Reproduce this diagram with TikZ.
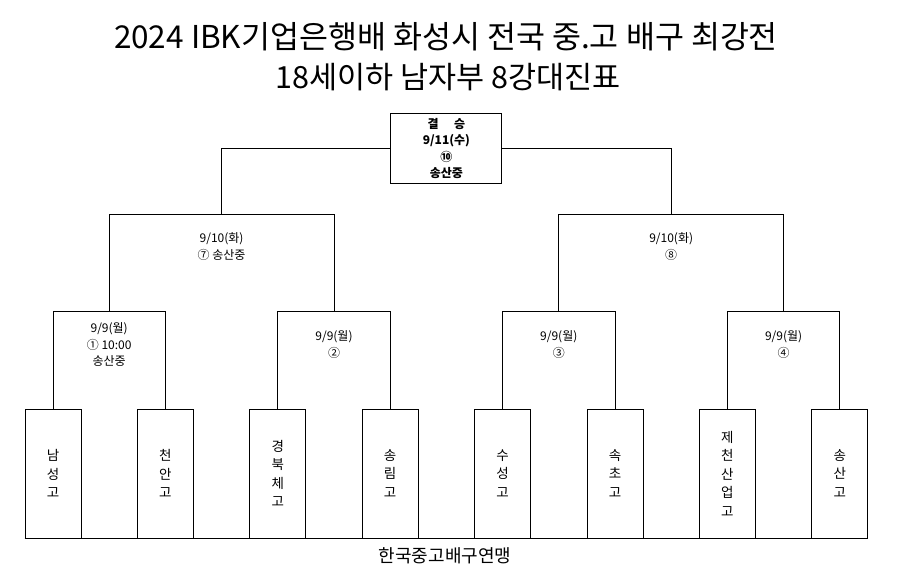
\documentclass[tikz,border=0pt]{standalone}
\usepackage{fontspec}
\setmainfont{Noto Sans CJK KR}
\usetikzlibrary{calc,positioning}
\newdimen\wdim
\newdimen\hdim
\wdim=56pt
\hdim=129pt
\tikzstyle{team}=[
  draw=black,
  line width=1pt,
  minimum width=\wdim,
  minimum height=\hdim,
  inner sep=0pt,
  align=center,
  font={\fontsize{13.5}{18.5}\selectfont},
]
\tikzstyle{bracket}=[
  draw=black,
  line width=1pt,
]
\tikzstyle{matchlabel}=[
  align=center,
  font={\fontsize{12}{16.5}\selectfont},
]
\tikzstyle{finalbox}=[
  draw=black,
  line width=1pt,
  fill=white,
  minimum width=111pt,
  minimum height=70pt,
  align=center,
  font={\bfseries\fontsize{12}{16.5}\selectfont},
]
\tikzset{
  x=1pt,
  y=-1pt,
}
\begin{document}
\begin{tikzpicture}
      \useasboundingbox (0,0) rectangle (897,581);
      \node [font={\fontsize{31.5}{31.5}\selectfont}] (title) at (446,37)
      {2024 IBK기업은행배 화성시 전국 중.고 배구 최강전};
      \node [font={\fontsize{30.5}{30.5}\selectfont}] (subtitle) at (448,77)
      {18세이하 남자부 8강대진표};
      \foreach \name [count=\i] in {남\\성\\고,천\\안\\고,경\\북\\체\\고,송\\림\\고,
        수\\성\\고,속\\초\\고,제\\천\\산\\업\\고,송\\산\\고}
      \node [team] (t\i) at ({53+112.4*(\i-1)},473.5) {\name};
      \foreach \i/\a/\b in {1/1/2,2/3/4,3/5/6,4/7/8}
      \coordinate (q\i) at ($(t\a.north)!.5!(t\b.north)+(0,-97)$);
      \foreach \i/\a/\b in {1/1/2,2/3/4}
      \coordinate (s\i) at ($(q\a)!.5!(q\b)+(0,-97)$);
      \node [finalbox] (fin) at ($(s1)!.5!(s2)+(0,-66)$)
      {결\hspace{1.3em}승\\9/11(수)\\⑩\\송산중};
      \foreach \i/\a/\b in {1/1/2,2/3/4,3/5/6,4/7/8}
      \draw [bracket] (t\a.north) |- (q\i) -| (t\b.north);
      \foreach \i/\a/\b in {1/1/2,2/3/4}
      \draw [bracket] (q\a) |- (s\i) -| (q\b);
      \draw [bracket] (s1) |- (fin.west);
      \draw [bracket] (s2) |- (fin.east);
      \draw [bracket] (t1.south west) -- (t8.south east);
      \node [matchlabel] (m1) at ($(q1)+(0,33)$) {9/9(월)\\① 10:00\\송산중};
      \node [matchlabel] (m2) at ($(q2)+(0,33)$) {9/9(월)\\②};
      \node [matchlabel] (m3) at ($(q3)+(0,33)$) {9/9(월)\\③};
      \node [matchlabel] (m4) at ($(q4)+(0,33)$) {9/9(월)\\④};
      \node [matchlabel] (m5) at ($(s1)+(0,32)$) {9/10(화)\\⑦ 송산중};
      \node [matchlabel] (m6) at ($(s2)+(0,32)$) {9/10(화)\\⑧};
      \node [font={\fontsize{18}{18}\selectfont}] (footer) at (445,556)
      {한국중고배구연맹};
    \end{tikzpicture}
\end{document}
